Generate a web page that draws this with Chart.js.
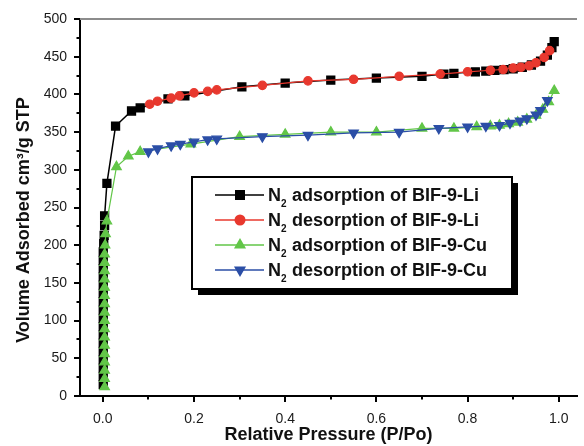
<!DOCTYPE html>
<html>
<head>
<meta charset="utf-8">
<script src="https://cdn.jsdelivr.net/npm/chart.js@4.4.0/dist/chart.umd.min.js"></script>
<style>
  html, body { margin: 0; padding: 0; background: #fff; }
  #wrap { width: 584px; height: 446px; position: relative; }
</style>
</head>
<body>
<div id="wrap"><canvas id="isoChart"></canvas></div>
<script>
// ========== DADOS ==========
const liAdsX = [0.001, 0.001, 0.001, 0.001, 0.001, 0.001, 0.001, 0.001, 0.001, 0.001, 0.001, 0.001, 0.001, 0.001, 0.001, 0.001, 0.001, 0.002, 0.003, 0.004, 0.004,
  0.009, 0.028, 0.063, 0.082, 0.143, 0.18, 0.305, 0.40, 0.50, 0.60, 0.70, 0.748, 0.77, 0.817, 0.84, 0.86, 0.88, 0.90, 0.92, 0.94, 0.96, 0.975, 0.985, 0.99];
const liAdsY = [15, 26, 37, 48, 59, 70, 81, 92, 103, 114, 125, 136, 147, 158, 169, 180, 191, 202, 213, 226, 239,
  282, 358, 378, 382, 394, 398, 410, 415, 419, 421.6, 424, 427, 428, 430, 431, 432, 433, 434, 436, 439, 444, 452, 462, 470];

const liDesX = [0.103, 0.12, 0.15, 0.168, 0.20, 0.23, 0.25, 0.35, 0.45, 0.55, 0.65, 0.74, 0.80, 0.85, 0.878, 0.90, 0.917, 0.935, 0.95, 0.968, 0.98];
const liDesY = [387, 391, 395, 398, 402, 404, 406, 412, 418, 420, 424, 427, 430, 432, 433, 435, 436, 438, 442, 449, 458];

const cuAdsX = [0.004, 0.004, 0.004, 0.004, 0.004, 0.004, 0.004, 0.004, 0.004, 0.004, 0.004, 0.004, 0.004, 0.004, 0.004, 0.004, 0.004, 0.005, 0.006, 0.009,
  0.03, 0.056, 0.082, 0.193, 0.30, 0.40, 0.50, 0.60, 0.70, 0.77, 0.82, 0.85, 0.87, 0.89, 0.91, 0.93, 0.95, 0.965, 0.978, 0.99];
const cuAdsY = [12, 23, 34, 45, 56, 67, 78, 89, 100, 111, 122, 133, 144, 155, 166, 177, 188, 200, 215, 232,
  304, 318, 324, 334, 344, 347, 350, 350, 355, 355, 357, 358, 359, 361, 363, 367, 372, 380, 390, 405];

const cuDesX = [0.10, 0.12, 0.15, 0.17, 0.20, 0.23, 0.25, 0.35, 0.45, 0.55, 0.65, 0.737, 0.80, 0.84, 0.87, 0.893, 0.915, 0.93, 0.95, 0.96, 0.975];
const cuDesY = [324, 328, 332, 334, 337, 340, 341, 344, 346, 349, 350, 355, 357, 358, 359, 362, 365, 368, 373, 379, 392];

const seriesLabels = [
  'adsorption of BIF-9-Li',
  'desorption of BIF-9-Li',
  'adsorption of BIF-9-Cu',
  'desorption of BIF-9-Cu'
];
const yTicks = [0, 50, 100, 150, 200, 250, 300, 350, 400, 450, 500];
const xTicks = [0.0, 0.2, 0.4, 0.6, 0.8, 1.0];
const yMinorTicks = [25, 75, 125, 175, 225, 275, 325, 375, 425, 475];
const xMinorTicks = [0.1, 0.3, 0.5, 0.7, 0.9];

const FONTE = '"Liberation Sans", Arial, sans-serif';

function pontos(xs, ys) {
  return xs.map((x, i) => ({ x: x, y: ys[i] }));
}

// ========== PLUGIN: ticks, moldura e legenda ==========
const molduraPlugin = {
  id: 'moldura',
  afterDraw(chart) {
    const ctx = chart.ctx;
    const area = chart.chartArea;
    const xs = chart.scales.x;
    const ys = chart.scales.y;

    ctx.save();
    // linha superior
    ctx.strokeStyle = '#8c8c8c';
    ctx.lineWidth = 2;
    ctx.beginPath();
    ctx.moveTo(area.left, area.top);
    ctx.lineTo(area.right, area.top);
    ctx.stroke();

    // ticks
    ctx.strokeStyle = '#000';
    ctx.lineWidth = 2;
    ctx.beginPath();
    yTicks.forEach(v => {
      const p = Math.round(ys.getPixelForValue(v));
      ctx.moveTo(area.left - 6, p);
      ctx.lineTo(area.left, p);
    });
    yMinorTicks.forEach(v => {
      const p = Math.round(ys.getPixelForValue(v));
      ctx.moveTo(area.left - 3.5, p);
      ctx.lineTo(area.left, p);
    });
    xTicks.forEach(v => {
      const p = Math.round(xs.getPixelForValue(v));
      ctx.moveTo(p, area.bottom);
      ctx.lineTo(p, area.bottom + 6);
    });
    xMinorTicks.forEach(v => {
      const p = Math.round(xs.getPixelForValue(v));
      ctx.moveTo(p, area.bottom);
      ctx.lineTo(p, area.bottom + 3.5);
    });
    ctx.stroke();

    // legenda
    const bx = 192, by = 177, bw = 320, bh = 112;
    ctx.fillStyle = '#000';
    ctx.fillRect(bx + 6, by + 6, bw, bh);
    ctx.fillStyle = '#fff';
    ctx.fillRect(bx, by, bw, bh);
    ctx.strokeStyle = '#000';
    ctx.lineWidth = 2;
    ctx.strokeRect(bx, by, bw, bh);

    chart.data.datasets.forEach((ds, i) => {
      const yy = 195 + i * 25;
      ctx.strokeStyle = ds.borderColor;
      ctx.lineWidth = 1.5;
      ctx.beginPath();
      ctx.moveTo(215, yy);
      ctx.lineTo(264, yy);
      ctx.stroke();
      desenharMarcador(ctx, ds.pointStyle, ds.pointRotation || 0, 240, yy, ds.pointBackgroundColor);

      ctx.fillStyle = '#111';
      ctx.textBaseline = 'middle';
      ctx.textAlign = 'left';
      ctx.font = 'bold 18px ' + FONTE;
      ctx.fillText('N', 268, yy + 1);
      const wN = ctx.measureText('N').width;
      ctx.font = 'bold 10px ' + FONTE;
      ctx.fillText('2', 268 + wN, yy + 9);
      ctx.font = 'bold 18px ' + FONTE;
      ctx.fillText(seriesLabels[i], 268 + wN + 11, yy + 1);
    });
    ctx.restore();
  }
};

function desenharMarcador(ctx, estilo, rot, x, y, cor) {
  ctx.fillStyle = cor;
  ctx.beginPath();
  if (estilo === 'rect') {
    ctx.rect(x - 5, y - 5, 10, 10);
  } else if (estilo === 'circle') {
    ctx.arc(x, y, 5.5, 0, Math.PI * 2);
  } else {
    const r = 7;
    const s = rot ? -1 : 1;
    ctx.moveTo(x, y - s * r);
    ctx.lineTo(x + r * 0.866, y + s * r * 0.5);
    ctx.lineTo(x - r * 0.866, y + s * r * 0.5);
    ctx.closePath();
  }
  ctx.fill();
}

// ========== GRÁFICO ==========
const ctxIso = document.getElementById('isoChart');
const isoChart = new Chart(ctxIso.getContext('2d'), {
  type: 'scatter',
  data: {
    datasets: [{
      label: seriesLabels[0],
      data: pontos(liAdsX, liAdsY),
      borderColor: '#000000',
      backgroundColor: '#000000',
      pointBackgroundColor: '#000000',
      pointStyle: 'rect',
      pointRadius: 5.5,
      borderWidth: 1.5,
      showLine: true,
      order: 4
    }, {
      label: seriesLabels[1],
      data: pontos(liDesX, liDesY),
      borderColor: '#e8382e',
      backgroundColor: '#e8382e',
      pointBackgroundColor: '#e8382e',
      pointStyle: 'circle',
      pointRadius: 4.2,
      borderWidth: 1.2,
      showLine: true,
      order: 3
    }, {
      label: seriesLabels[2],
      data: pontos(cuAdsX, cuAdsY),
      borderColor: '#62c648',
      backgroundColor: '#62c648',
      pointBackgroundColor: '#62c648',
      pointStyle: 'triangle',
      pointRadius: 5.5,
      borderWidth: 1.2,
      showLine: true,
      order: 2
    }, {
      label: seriesLabels[3],
      data: pontos(cuDesX, cuDesY),
      borderColor: '#2b4ea6',
      backgroundColor: '#2b4ea6',
      pointBackgroundColor: '#2b4ea6',
      pointStyle: 'triangle',
      pointRotation: 180,
      pointRadius: 5.5,
      borderWidth: 1.2,
      showLine: true,
      order: 1
    }]
  },
  options: {
    responsive: true,
    maintainAspectRatio: false,
    animation: false,
    layout: { padding: { top: 19, right: 0, left: 0, bottom: 0 } },
    elements: { point: { borderWidth: 0 }, line: { tension: 0 } },
    plugins: {
      legend: { display: false },
      tooltip: { enabled: false }
    },
    scales: {
      x: {
        type: 'linear',
        min: -0.05,
        max: 1.04,
        afterFit: s => { s.height = 50; },
        afterBuildTicks: s => { s.ticks = xTicks.map(v => ({ value: v })); },
        grid: { display: false },
        border: { display: true, color: '#000', width: 2 },
        ticks: {
          padding: 7,
          color: '#1a1a1a',
          font: { size: 14, family: FONTE },
          callback: v => v.toFixed(1)
        },
        title: {
          display: true,
          text: 'Relative Pressure (P/Po)',
          color: '#111',
          padding: { top: 0, bottom: 0 },
          font: { size: 18, weight: 'bold', family: FONTE }
        }
      },
      y: {
        type: 'linear',
        min: 0,
        max: 500,
        afterFit: s => { s.width = 80; },
        afterBuildTicks: s => { s.ticks = yTicks.map(v => ({ value: v })); },
        grid: { display: false },
        border: { display: true, color: '#000', width: 2 },
        ticks: {
          padding: 5,
          color: '#1a1a1a',
          font: { size: 14, family: FONTE }
        },
        title: {
          display: true,
          text: 'Volume Adsorbed cm³/g STP\u00a0\u00a0\u00a0\u00a0\u00a0',
          color: '#111',
          padding: { top: 13, bottom: 0 },
          font: { size: 18, weight: 'bold', family: FONTE }
        }
      }
    }
  },
  plugins: [molduraPlugin]
});
</script>
</body>
</html>
